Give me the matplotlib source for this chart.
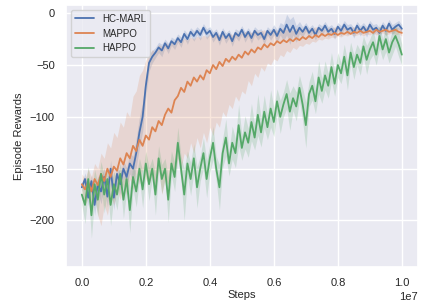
import numpy as np
import matplotlib
matplotlib.use("Agg")
import matplotlib.pyplot as plt
import seaborn as sns

# steps (in units of 1e7 -> scaled below)
steps = np.linspace(0, 1e7, 101)

hc_marl = [-168, -160, -178, -162, -185, -165, -172, -158, -177, -150,
           -178, -155, -165, -150, -158, -145, -150, -135, -115, -100,
           -70, -48, -42, -38, -33, -36, -29, -34, -27, -30,
           -24, -28, -20, -25, -18, -22, -17, -21, -14, -20,
           -17, -23, -19, -26, -18, -24, -20, -27, -19, -22,
           -16, -23, -18, -24, -17, -21, -19, -25, -17, -21,
           -16, -22, -15, -19, -11, -18, -12, -20, -14, -18,
           -13, -19, -15, -21, -14, -17, -12, -18, -15, -20,
           -13, -17, -11, -16, -14, -19, -12, -17, -13, -18,
           -11, -16, -14, -19, -12, -17, -10, -16, -13, -11, -15]
hc_marl_spread = [4, 6, 8, 6, 10, 8, 12, 9, 10, 8,
                  12, 9, 10, 8, 9, 10, 12, 14, 15, 14,
                  12, 8, 6, 5, 5, 6, 4, 5, 4, 5,
                  4, 5, 4, 5, 4, 5, 4, 5, 4, 5,
                  4, 5, 4, 5, 4, 5, 4, 5, 4, 5,
                  4, 5, 4, 5, 4, 5, 4, 5, 4, 5,
                  5, 6, 6, 8, 10, 12, 9, 8, 6, 5,
                  4, 5, 4, 5, 4, 5, 4, 5, 4, 5,
                  4, 5, 4, 5, 4, 5, 4, 5, 4, 5,
                  4, 5, 4, 5, 4, 5, 4, 5, 4, 4, 4]

mappo = [-165, -170, -163, -172, -160, -166, -155, -162, -150, -158,
         -148, -152, -140, -146, -135, -140, -128, -133, -122, -128,
         -118, -122, -110, -114, -104, -108, -98, -92, -96, -84,
         -80, -72, -76, -66, -70, -62, -66, -60, -64, -55,
         -58, -50, -54, -47, -51, -44, -47, -42, -45, -40,
         -43, -37, -40, -35, -38, -33, -35, -30, -33, -29,
         -31, -27, -29, -26, -28, -25, -27, -24, -26, -23,
         -25, -22, -24, -21, -23, -20, -22, -20, -21, -19,
         -21, -19, -20, -18, -20, -18, -19, -17, -19, -18,
         -17, -19, -16, -18, -17, -16, -18, -17, -16, -18, -19]
mappo_hi = [-155, -160, -150, -158, -145, -150, -135, -140, -125, -130,
            -115, -120, -105, -110, -95, -100, -80, -75, -60, -55,
            -45, -40, -35, -38, -30, -32, -28, -30, -26, -28,
            -25, -27, -24, -26, -23, -25, -22, -24, -21, -23,
            -20, -22, -19, -21, -20, -22, -19, -21, -18, -20,
            -19, -18, -17, -19, -16, -18, -17, -16, -18, -17,
            -15, -17, -16, -14, -16, -15, -17, -14, -16, -15,
            -14, -16, -15, -13, -15, -14, -16, -14, -15, -13,
            -15, -14, -13, -15, -14, -13, -15, -14, -13, -14,
            -13, -15, -14, -13, -14, -13, -15, -14, -13, -14, -15]
mappo_lo = [-180, -185, -178, -190, -175, -195, -205, -185, -195, -175,
            -185, -170, -180, -165, -175, -160, -170, -155, -165, -150,
            -160, -165, -155, -170, -150, -175, -160, -165, -150, -155,
            -140, -150, -135, -140, -125, -135, -120, -130, -115, -125,
            -110, -118, -105, -110, -95, -100, -88, -92, -80, -85,
            -75, -78, -65, -70, -58, -62, -52, -56, -48, -50,
            -44, -46, -40, -42, -36, -38, -33, -35, -31, -32,
            -29, -30, -27, -28, -25, -26, -24, -25, -23, -24,
            -22, -23, -21, -22, -20, -22, -21, -20, -22, -20,
            -21, -19, -21, -20, -19, -21, -20, -19, -21, -20, -22]

happo = [-175, -185, -160, -195, -165, -180, -155, -175, -160, -185,
         -165, -175, -155, -180, -160, -190, -158, -172, -150, -170,
         -145, -165, -150, -175, -140, -160, -150, -180, -145, -158,
         -125, -150, -175, -145, -160, -140, -168, -150, -135, -160,
         -140, -125, -150, -168, -135, -120, -145, -125, -135, -108,
         -130, -115, -125, -105, -120, -98, -115, -95, -110, -92,
         -105, -85, -100, -88, -78, -95, -82, -90, -72, -88,
         -108, -78, -70, -85, -62, -75, -60, -70, -52, -68,
         -50, -58, -42, -60, -38, -52, -40, -48, -32, -45,
         -35, -28, -40, -22, -35, -25, -38, -28, -22, -30, -40]
happo_spread = [10, 18, 12, 22, 14, 16, 12, 18, 10, 20,
                12, 15, 10, 18, 12, 22, 12, 15, 10, 18,
                12, 16, 10, 20, 12, 14, 10, 22, 12, 14,
                15, 12, 25, 12, 16, 14, 20, 12, 15, 18,
                14, 16, 12, 22, 14, 18, 12, 16, 14, 20,
                12, 16, 14, 18, 12, 20, 14, 16, 12, 18,
                14, 12, 16, 12, 14, 18, 12, 14, 12, 16,
                22, 12, 14, 12, 16, 12, 14, 12, 14, 12,
                12, 10, 12, 14, 10, 12, 10, 12, 10, 14,
                10, 12, 10, 12, 10, 12, 10, 12, 10, 12, 10]

series = [
    ("HC-MARL", hc_marl, hc_marl_spread),
    ("MAPPO", mappo, None),
    ("HAPPO", happo, happo_spread),
]

sns.set_theme(style="darkgrid")
plt.rcParams['font.family'] = ['Liberation Sans', 'DejaVu Sans']
plt.rcParams['font.size'] = 8

fig, ax = plt.subplots(figsize=(4.33, 3.06), dpi=100)
colors = sns.color_palette("deep")

for i, (name, mean, spread) in enumerate(series):
    mean = np.array(mean, dtype=float)
    if spread is None:
        lo, hi = np.array(mappo_lo), np.array(mappo_hi)
    else:
        lo = mean - np.array(spread)
        hi = mean + np.array(spread)
    ax.fill_between(steps, lo, hi, color=colors[i], alpha=0.2, linewidth=0)
    ax.plot(steps, mean, color=colors[i], linewidth=1.3, label=name)

ax.set_xlabel("Steps", fontsize=8, labelpad=1)
ax.set_ylabel("Episode Rewards", fontsize=8)
ax.tick_params(labelsize=8, pad=2)
ax.xaxis.get_offset_text().set_fontsize(8)
ax.set_ylim(-245, 8)
ax.set_yticks([0, -50, -100, -150, -200])
ax.legend(loc="upper left", fontsize=7, frameon=True)

fig.subplots_adjust(left=0.152, right=0.965, top=0.984, bottom=0.127)
fig.savefig("out.png", dpi=100)
